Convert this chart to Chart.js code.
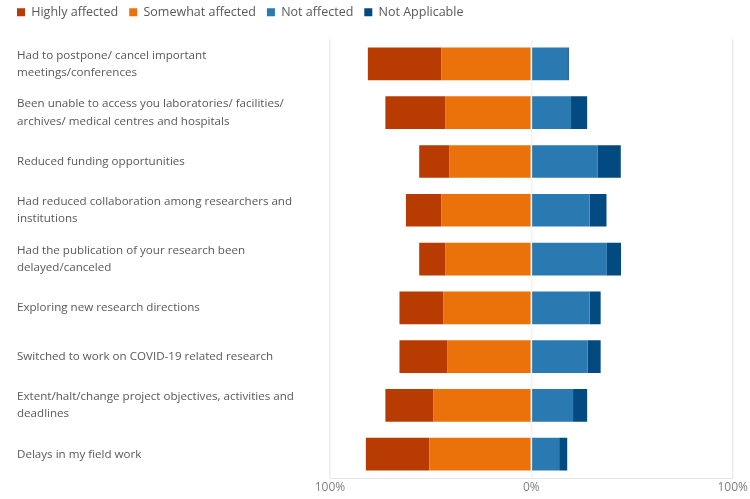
<!DOCTYPE html>
<html>
<head>
<meta charset="utf-8">
<script src="https://cdn.jsdelivr.net/npm/chart.js@4/dist/chart.umd.min.js"></script>
<style>
  html, body { margin: 0; padding: 0; background: #fff; }
  #wrap { width: 750px; height: 499px; }
</style>
</head>
<body>
<div id="wrap"><canvas id="chart"></canvas></div>
<script>
const categories = [
    ["Had to postpone/ cancel important", "meetings/conferences"],
    ["Been unable to access you laboratories/ facilities/", "archives/ medical centres and hospitals"],
    "Reduced funding opportunities",
    ["Had reduced collaboration among researchers and", "institutions"],
    ["Had the publication of your research been", "delayed/canceled"],
    "Exploring new research directions",
    "Switched to work on COVID-19 related research",
    ["Extent/halt/change project objectives, activities and", "deadlines"],
    "Delays in my field work"
];

// percentages
const highlyAffected = [36.4, 29.9, 15.1, 17.7, 13.1, 21.9, 23.9, 23.7, 31.5];
const somewhatAffected = [44.8, 42.6, 40.6, 44.6, 42.6, 43.6, 41.6, 48.8, 50.7];
const notAffected = [17.8, 19.7, 32.8, 28.9, 37.5, 28.9, 27.9, 20.7, 13.8];
const notApplicable = [0.8, 8.0, 11.6, 8.4, 7.0, 5.5, 6.5, 7.0, 4.0];

const xTicks = [-100, 0, 100];

const legendOrder = ["Highly affected", "Somewhat affected", "Not affected", "Not Applicable"];

const textColor = "#595959";
const font = "'Open Sans', 'Noto Sans', sans-serif";

// legend sits further left/up than the chart padding would put it
const legendShift = {
    id: "legendShift",
    afterLayout(chart) {
        const lg = chart.legend;
        if (!lg) return;
        lg.left -= 11;
        lg.right -= 11;
        lg.top -= 11;
        lg.bottom -= 11;
    }
};

const neg = arr => arr.map(v => -v);

new Chart(document.getElementById("chart"), {
    type: "bar",
    data: {
        labels: categories,
        datasets: [
            // negative side stacks from zero outward, so "somewhat" comes first
            {label: "Somewhat affected", data: neg(somewhatAffected), backgroundColor: "#EB710B"},
            {label: "Highly affected", data: neg(highlyAffected), backgroundColor: "#B83B01"},
            {label: "Not affected", data: notAffected, backgroundColor: "#2A79B0"},
            {label: "Not Applicable", data: notApplicable, backgroundColor: "#034A80"}
        ]
    },
    options: {
        indexAxis: "y",
        responsive: true,
        maintainAspectRatio: false,
        animation: false,
        layout: {padding: {left: 17, right: 17, top: 6, bottom: 0}},
        datasets: {
            bar: {barPercentage: 0.67, categoryPercentage: 1}
        },
        plugins: {
            tooltip: {enabled: false},
            legend: {
                position: "top",
                align: "start",
                labels: {
                    boxWidth: 8,
                    boxHeight: 8,
                    padding: 11,
                    color: textColor,
                    font: {family: font, size: 12.5},
                    sort: (a, b) => legendOrder.indexOf(a.text) - legendOrder.indexOf(b.text)
                }
            }
        },
        scales: {
            x: {
                stacked: true,
                min: -100,
                max: 100,
                afterBuildTicks: axis => {
                    axis.ticks = xTicks.map(v => ({value: v}));
                },
                ticks: {
                    color: "#7f7f7f",
                    padding: 2,
                    font: {family: font, size: 12},
                    callback: v => Math.abs(v) + "%"
                },
                grid: {
                    drawTicks: false,
                    lineWidth: 1.5,
                    color: ctx => (ctx.tick && ctx.tick.value === 0) ? "rgba(0,0,0,0.05)" : "#ebebeb",
                    borderDash: ctx => (ctx.tick && ctx.tick.value === 0) ? [3, 3] : []
                },
                border: {display: true, color: "#e6e6e6"}
            },
            y: {
                stacked: true,
                afterFit: axis => { axis.width = 313; },
                ticks: {
                    crossAlign: "far",
                    color: textColor,
                    font: {family: font, size: 11.6, lineHeight: 1.5}
                },
                grid: {display: false},
                border: {display: false}
            }
        }
    },
    plugins: [legendShift]
});
</script>
</body>
</html>
